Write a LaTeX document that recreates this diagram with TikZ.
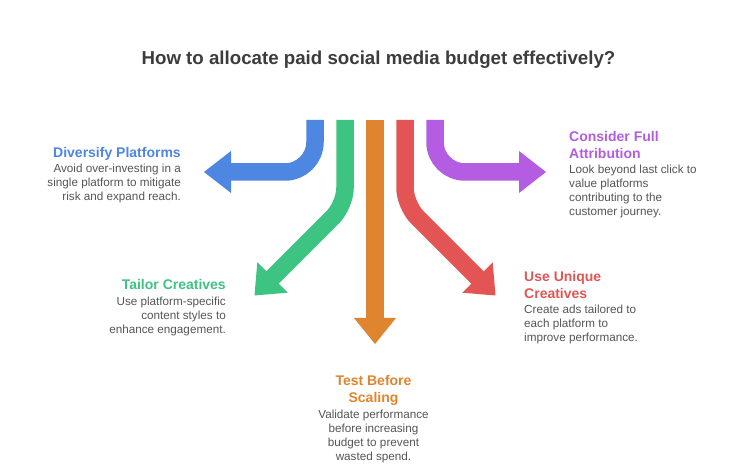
\documentclass[tikz,border=0pt]{standalone}
\usepackage{fontspec}
\setmainfont{Liberation Sans}
\definecolor{cblue}{HTML}{4D87E1}
\definecolor{cgreen}{HTML}{3EC482}
\definecolor{corange}{HTML}{E0852F}
\definecolor{cred}{HTML}{E35555}
\definecolor{cpurple}{HTML}{B45DE3}
\definecolor{titlegray}{HTML}{3C3C3C}
\definecolor{bodygray}{HTML}{555555}
\begin{document}
\begin{tikzpicture}[x=1pt,y=-1pt,
  shaft/.style={line width=17.5pt},
  ttl/.style={font=\fontsize{14}{17}\selectfont\bfseries, inner sep=0pt},
  body/.style={font=\fontsize{11.7}{13.9}\selectfont, text=bodygray, inner sep=0pt}]
\fill[white] (0,0) rectangle (756,470);
\useasboundingbox (0,0) rectangle (756,470);

\node[font=\fontsize{18.7}{22}\selectfont\bfseries, text=titlegray, inner sep=0pt] (title) at (378.5,60) {How to allocate paid social media budget effectively?};

% blue arrow
\coordinate (b0) at (315,120); \coordinate (b1) at (315,172); \coordinate (b2) at (230,172);
\draw[shaft, cblue, rounded corners=30pt] (b0) -- (b1) -- (b2);
\fill[cblue] (231,151) -- (204,172) -- (231,193) -- cycle;

% green arrow
\coordinate (g0) at (345,120); \coordinate (g1) at (345,205); \coordinate (g2) at (271,279);
\draw[shaft, cgreen, rounded corners=17pt] (g0) -- (g1) -- (g2);
\fill[cgreen] (257.3,262.3) -- (254.5,295.5) -- (287.7,292.7) -- cycle;

% orange arrow
\coordinate (o0) at (375,120); \coordinate (o1) at (375,320);
\draw[shaft, corange] (o0) -- (o1);
\fill[corange] (354,318) -- (375,344) -- (396,318) -- cycle;

% red arrow
\coordinate (r0) at (405,120); \coordinate (r1) at (405,205); \coordinate (r2) at (479,279);
\draw[shaft, cred, rounded corners=17pt] (r0) -- (r1) -- (r2);
\fill[cred] (492.7,262.3) -- (495.5,295.5) -- (462.3,292.7) -- cycle;

% purple arrow
\coordinate (p0) at (435,120); \coordinate (p1) at (435,172); \coordinate (p2) at (520,172);
\draw[shaft, cpurple, rounded corners=30pt] (p0) -- (p1) -- (p2);
\fill[cpurple] (519,151) -- (546,172) -- (519,193) -- cycle;

% texts
\node[ttl, text=cblue, anchor=north east] (divt) at (181,147) {Diversify Platforms};
\node[body, anchor=north east, align=right] (divb) at (181,164) {Avoid over-investing in a\\single platform to mitigate\\risk and expand reach.};

\node[ttl, text=cpurple, anchor=north west, align=left] (cont) at (569,131) {Consider Full\\Attribution};
\node[body, anchor=north west, align=left] (conb) at (569,165) {Look beyond last click to\\value platforms\\contributing to the\\customer journey.};

\node[ttl, text=cgreen, anchor=north east] (tait) at (226,279.5) {Tailor Creatives};
\node[body, anchor=north east, align=right] (taib) at (226,297) {Use platform-specific\\content styles to\\enhance engagement.};

\node[ttl, text=cred, anchor=north west, align=left] (uset) at (524,271) {Use Unique\\Creatives};
\node[body, anchor=north west, align=left] (useb) at (524,305) {Create ads tailored to\\each platform to\\improve performance.};

\node[ttl, text=corange, anchor=north, align=center] (tst) at (373.5,375) {Test Before\\Scaling};
\node[body, anchor=north, align=center] (tsb) at (373.5,410) {Validate performance\\before increasing\\budget to prevent\\wasted spend.};
\end{tikzpicture}
\end{document}
